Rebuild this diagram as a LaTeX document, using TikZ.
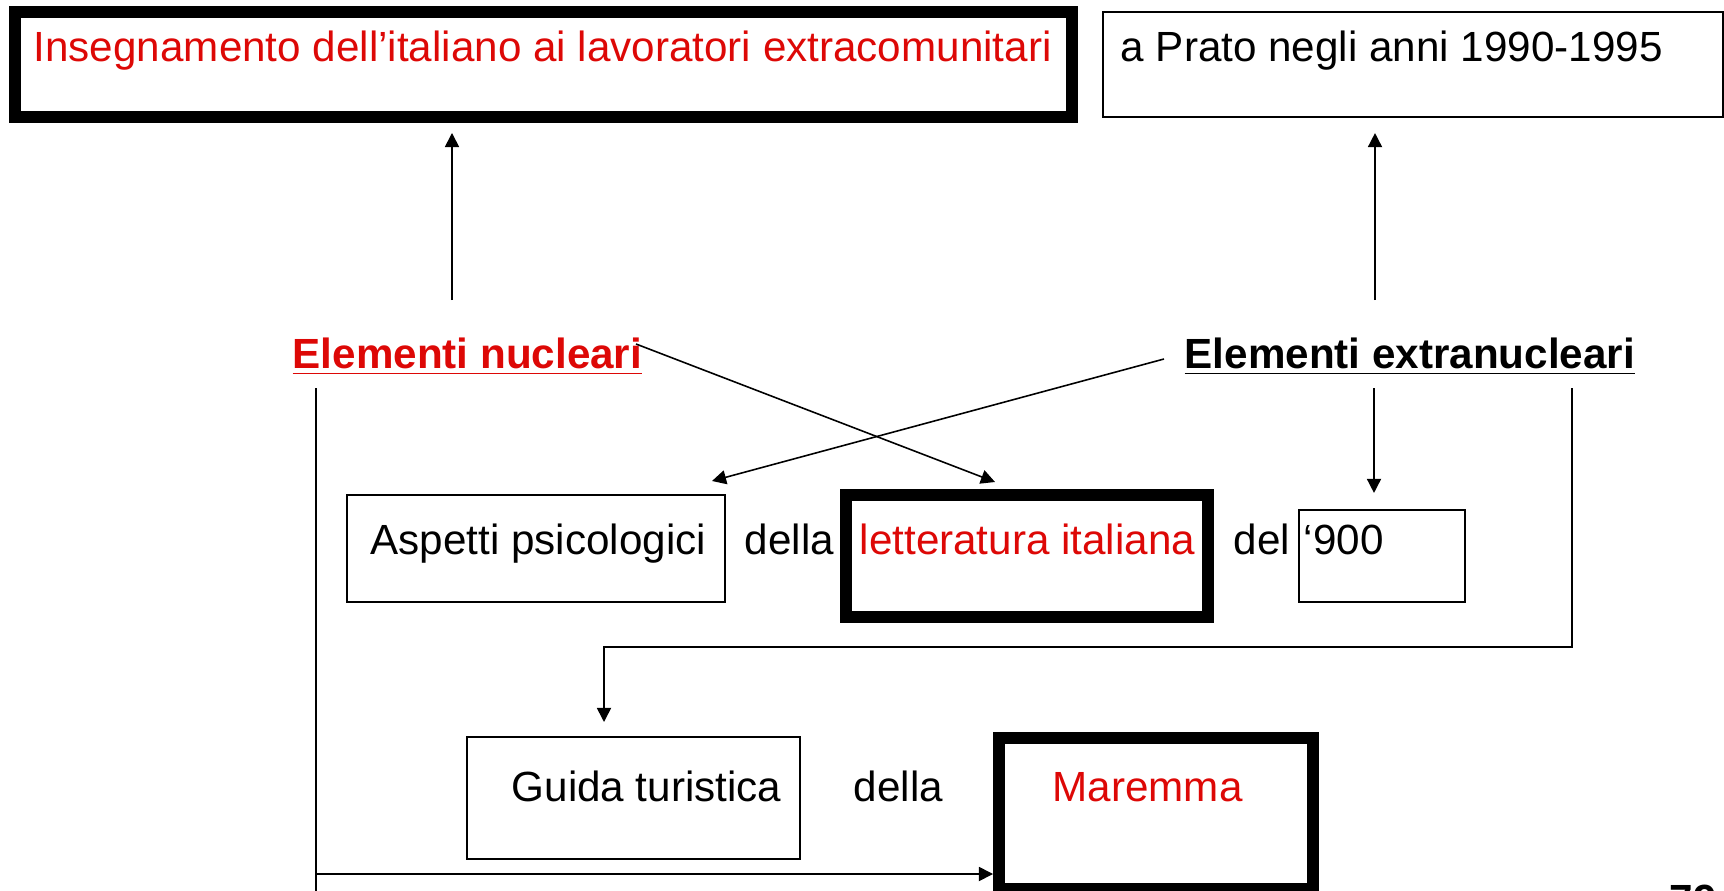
\documentclass[tikz,border=0pt]{standalone}
\usepackage{fontspec}
\setmainfont{Liberation Sans}
\usepackage{tikz}
\usetikzlibrary{arrows.meta,fit}
\definecolor{pptred}{RGB}{221,8,6}

\begin{document}
\begin{tikzpicture}[x=0.01cm, y=-0.01cm, >={Triangle[length=4pt,width=4pt]},
		box/.style={draw, line width=0.6pt, inner sep=0pt},
		heavybox/.style={draw, line width=3.4pt, inner sep=0pt},
		lbl/.style={inner sep=0pt, anchor=base west, font=\fontsize{12}{14}\selectfont},
		conn/.style={line width=0.45pt}]
			\useasboundingbox (0, 0) rectangle (1724, 891);
			
			% boxes
			\node[heavybox, fit={(15, 12) (1072, 117)}] (ins) {};
			\node[box, fit={(1103, 12) (1723, 117)}] (prato) {};
			\node[box, fit={(347, 495) (725, 602)}] (asp) {};
			\node[heavybox, fit={(846, 495) (1208, 617)}] (lett) {};
			\node[box, fit={(1299, 510) (1465, 602)}] (nove) {};
			\node[box, fit={(467, 737) (800, 859)}] (guida) {};
			\node[heavybox, fit={(999, 738) (1313, 889)}] (mar) {};
			
			% texts
			\node[lbl, pptred] (tins) at (33, 62) {Insegnamento dell’italiano ai lavoratori extracomunitari};
			\node[lbl] (tprato) at (1120, 62) {a Prato negli anni 1990-1995};
			\node[lbl, pptred] (nuc) at (292, 368) {\underline{\textbf{Elementi nucleari}}};
			\node[lbl] (ext) at (1184, 368) {\underline{\textbf{Elementi extranucleari}}};
			\node[lbl] (tasp) at (370, 554) {Aspetti psicologici};
			\node[lbl] (della1) at (744, 554) {della};
			\node[lbl, pptred] (tlett) at (859, 554) {letteratura italiana};
			\node[lbl] (del) at (1233, 554) {del};
			\node[lbl] (tnove) at (1303, 554) {‘900};
			\node[lbl] (tguida) at (511, 801) {Guida turistica};
			\node[lbl] (della2) at (853, 801) {della};
			\node[lbl, pptred] (tmar) at (1052, 801) {Maremma};
			\node[lbl, font=\fontsize{12}{14}\selectfont\bfseries] (pg) at (1669, 914) {79};
			
			% connectors
			\coordinate (nucup) at (452, 300);
			\coordinate (extup) at (1375, 300);
			\coordinate (nucx) at (636, 344);
			\coordinate (extx) at (1164, 359);
			\coordinate (lettin) at (995, 482);
			\coordinate (aspin) at (712, 481);
			\coordinate (extdn) at (1374, 388);
			\coordinate (extr) at (1572, 388);
			\coordinate (guidain) at (604, 722);
			\coordinate (nucdn) at (316, 388);
			\coordinate (nucbot) at (316, 874);
			
			\draw[conn, ->, shorten >=0.1cm] (nucup) -- (nucup |- ins.south);
			\draw[conn, ->, shorten >=0.15cm] (extup) -- (extup |- prato.south);
			\draw[conn, ->] (nucx) -- (lettin);
			\draw[conn, ->] (extx) -- (aspin);
			\draw[conn, ->, shorten >=0.16cm] (extdn) -- (extdn |- nove.north);
			\draw[conn, ->] (extr) |- (604, 647) -- (guidain);
			\draw[conn] (nucdn) -- (316, 900);
			\draw[conn, ->] (nucbot) -- (nucbot -| mar.west);
		\end{tikzpicture}
\end{document}
